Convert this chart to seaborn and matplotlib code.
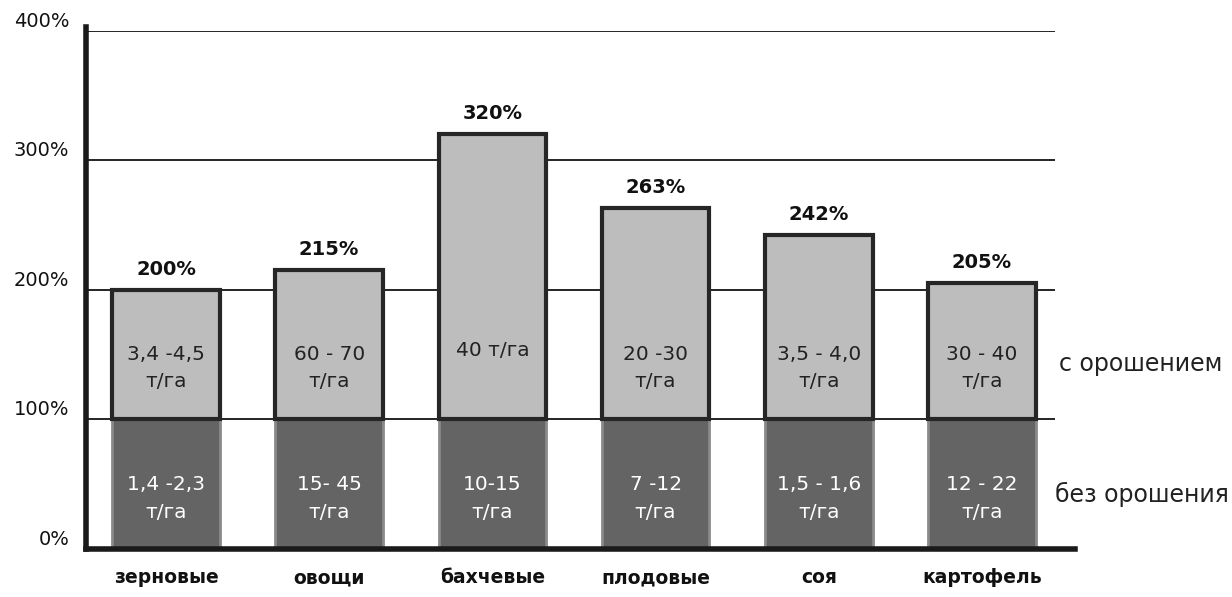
import matplotlib
matplotlib.use("Agg")
import matplotlib.pyplot as plt
import seaborn as sns
import pandas as pd

# Урожайность культур: без орошения = 100 %, с орошением — прирост
crops = ["зерновые", "овощи", "бахчевые", "плодовые", "соя", "картофель"]
total_pct = [200, 215, 320, 263, 242, 205]
base_pct = [100, 100, 100, 100, 100, 100]
irrigated_yield = ["3,4 -4,5\nт/га", "60 - 70\nт/га", "40 т/га", "20 -30\nт/га", "3,5 - 4,0\nт/га", "30 - 40\nт/га"]
dry_yield = ["1,4 -2,3\nт/га", "15- 45\nт/га", "10-15\nт/га", "7 -12\nт/га", "1,5 - 1,6\nт/га", "12 - 22\nт/га"]
y_ticks = [0, 100, 200, 300, 400]
y_tick_labels = ["0%", "100%", "200%", "300%", "400%"]
series_labels = ["с орошением", "без орошения"]

df = pd.DataFrame({
    "crop": crops,
    "base": base_pct,
    "gain": [t - b for t, b in zip(total_pct, base_pct)],
    "total": total_pct,
})

sns.set_theme(style="white")
plt.rcParams["font.family"] = ["DejaVu Sans"]

fig = plt.figure(figsize=(12.32, 5.97), dpi=100)
ax = fig.add_axes([0.0698, 0.0804, 0.8028, 0.868])

BAR_W = 0.66
XMIN, XMAX = -0.49, 5.57

# horizontal reference lines behind the bars
ax.hlines(y_ticks[1:], XMIN, 5.45, colors="black", linewidth=1.2, zorder=0)

# lower segment: yield without irrigation
sns.barplot(data=df, x="crop", y="base", color="#646464", width=BAR_W,
            edgecolor="#8a8a8a", linewidth=2, saturation=1, ax=ax, zorder=2)
# upper segment: additional yield with irrigation
sns.barplot(data=df, x="crop", y="gain", bottom=df["base"], color="#bdbdbd",
            width=BAR_W, edgecolor="#262626", linewidth=3, saturation=1,
            ax=ax, zorder=3)

for i, (tot, base, top_txt, low_txt) in enumerate(zip(total_pct, base_pct, irrigated_yield, dry_yield)):
    ax.annotate(f"{tot}%", xy=(i, tot), xytext=(0, 15), textcoords="offset points",
                ha="center", va="center", fontsize=14, fontweight="bold",
                color="#111111", zorder=5)
    ty = base + (53 if "\n" not in top_txt else 40)
    ax.text(i, ty, top_txt, ha="center", va="center", fontsize=14.5,
            color="#222222", linespacing=1.55, zorder=5)
    ax.text(i, base * 0.39, low_txt, ha="center", va="center", fontsize=14.5,
            color="white", linespacing=1.55, zorder=5)

ax.text(5.47, 143, series_labels[0], ha="left", va="center", fontsize=17,
        color="#222222", clip_on=False)
ax.text(5.45, 42, series_labels[1], ha="left", va="center", fontsize=17,
        color="#222222", clip_on=False)

ax.set_xlim(XMIN, XMAX)
ax.set_ylim(0, 400)
ax.set_yticks(y_ticks)
ax.set_yticklabels(y_tick_labels, fontsize=14, color="#111111")
for lbl in ax.get_yticklabels():
    lbl.set_verticalalignment("bottom")
ax.tick_params(axis="y", length=0, pad=12)
ax.tick_params(axis="x", length=0, pad=14)
for lbl in ax.get_xticklabels():
    lbl.set_fontsize(13.5)
    lbl.set_fontweight("bold")
    lbl.set_color("#111111")
ax.set_xlabel("")
ax.set_ylabel("")

for side in ["top", "right"]:
    ax.spines[side].set_visible(False)
ax.spines["left"].set_linewidth(4)
ax.spines["left"].set_color("#1a1a1a")
ax.spines["bottom"].set_linewidth(4)
ax.spines["bottom"].set_color("#1a1a1a")
ax.spines["left"].set_bounds(0, 403)

fig.savefig("out.png", dpi=100, facecolor="white")
